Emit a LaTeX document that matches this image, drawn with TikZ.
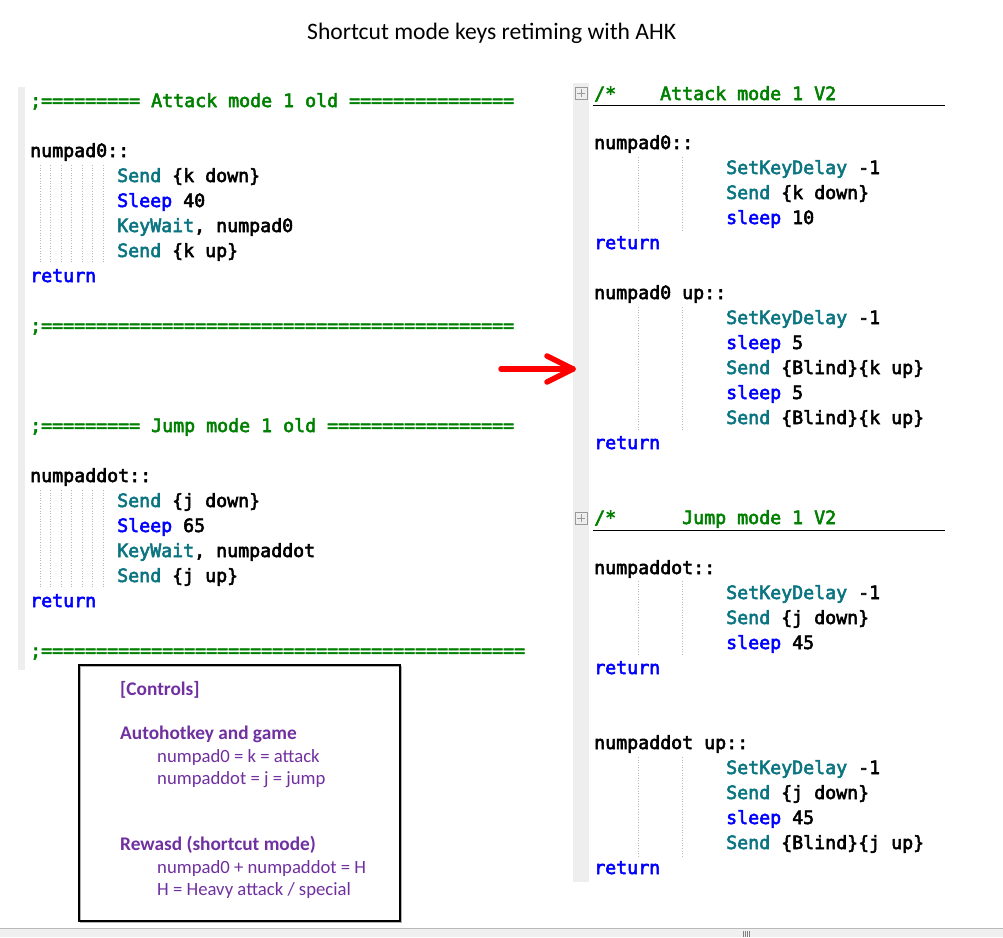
\documentclass[tikz,border=0pt]{standalone}
\usepackage{fontspec}
\setmainfont{Carlito}
\newfontfamily\codefont{DejaVu Sans Mono}[FakeBold=3]
\definecolor{cmtgreen}{HTML}{008000}
\definecolor{cmdteal}{HTML}{0A7480}
\definecolor{kwblue}{HTML}{0000FF}
\definecolor{notepurple}{HTML}{7030A0}
\definecolor{gutterbg}{HTML}{EEEEEE}
\definecolor{stripbg}{HTML}{F0F0F0}
\newcommand{\cmd}[1]{\textcolor{cmdteal}{#1}}
\newcommand{\kw}[1]{\textcolor{kwblue}{#1}}
\newcommand{\cm}[1]{\textcolor{cmtgreen}{#1}}
\newcommand{\sps}[1]{\hspace*{#1\dimexpr 11pt\relax}}
\begin{document}
\begin{tikzpicture}[x=1pt,y=-1pt,
  code/.style={anchor=base west, inner sep=0pt, font=\codefont\fontsize{18.27}{25}\selectfont},
  note/.style={anchor=base west, inner sep=0pt, text=notepurple, font=\fontsize{18.7}{22}\selectfont},
  notehead/.style={note, font=\bfseries\fontsize{19.3}{22}\selectfont},
  guide/.style={draw=gray!55, dotted, line width=0.6pt},
  gutter/.style={fill=gutterbg, draw=none},
  foldbox/.style={draw=gray!80, line width=0.6pt},
  headrule/.style={draw=black, line width=0.9pt},
  bigarrow/.style={draw=red, line width=5.5pt, line cap=round, line join=round}]
\useasboundingbox (0,0) rectangle (1003,937);
\fill[white] (0,0) rectangle (1003,937);

% title
\node[anchor=base west, inner sep=0pt, font=\fontsize{23.6}{28}\selectfont] (title) at (307,39) {Shortcut mode keys retiming with AHK};

% gutters
\path[gutter] (18,87) rectangle (25,670);
\path[gutter] (573,83) rectangle (589,882);

% ---------------- left panel ----------------
\node[code] (l1) at (30,107) {\cm{;========= Attack mode 1 old ===============}};
\node[code] (l2) at (30,157) {numpad0::};
\node[code] (l3) at (117,182) {\cmd{Send} \{k down\}};
\node[code] (l4) at (117,207) {\kw{Sleep} 40};
\node[code] (l5) at (117,232) {\cmd{KeyWait}, numpad0};
\node[code] (l6) at (117,257) {\cmd{Send} \{k up\}};
\node[code] (l7) at (30,282) {\kw{return}};
\node[code] (l8) at (30,332) {\cm{;===========================================}};
\node[code] (l9) at (30,432) {\cm{;========= Jump mode 1 old =================}};
\node[code] (l10) at (30,482) {numpaddot::};
\node[code] (l11) at (117,507) {\cmd{Send} \{j down\}};
\node[code] (l12) at (117,532) {\kw{Sleep} 65};
\node[code] (l13) at (117,557) {\cmd{KeyWait}, numpaddot};
\node[code] (l14) at (117,582) {\cmd{Send} \{j up\}};
\node[code] (l15) at (30,607) {\kw{return}};
\node[code] (l16) at (30,657) {\cm{;============================================}};

\foreach \gx in {40,50,61,71,82,92,103} {
  \path[guide] (\gx,165) -- (\gx,263);
  \path[guide] (\gx,490) -- (\gx,588);
}

% ---------------- right panel ----------------
\draw[foldbox] (575,87) rectangle (587,99) (577,93) -- (585,93) (581,89) -- (581,97);
\draw[foldbox] (575,512) rectangle (587,524) (577,518) -- (585,518) (581,514) -- (581,522);
\node[code] (r1) at (594,100) {\cm{/*\sps{4}Attack mode 1 V2}};
\path[headrule] (593,105) -- (945,105);
\node[code] (r2) at (594,149) {numpad0::};
\node[code] (r3) at (726,174) {\cmd{SetKeyDelay} -1};
\node[code] (r4) at (726,199) {\cmd{Send} \{k down\}};
\node[code] (r5) at (726,224) {\kw{sleep} 10};
\node[code] (r6) at (594,249) {\kw{return}};
\node[code] (r7) at (594,299) {numpad0 up::};
\node[code] (r8) at (726,324) {\cmd{SetKeyDelay} -1};
\node[code] (r9) at (726,349) {\kw{sleep} 5};
\node[code] (r10) at (726,374) {\cmd{Send} \{Blind\}\{k up\}};
\node[code] (r11) at (726,399) {\kw{sleep} 5};
\node[code] (r12) at (726,424) {\cmd{Send} \{Blind\}\{k up\}};
\node[code] (r13) at (594,449) {\kw{return}};
\node[code] (r14) at (594,524) {\cm{/*\sps{6}Jump mode 1 V2}};
\path[headrule] (593,530) -- (945,530);
\node[code] (r15) at (594,574) {numpaddot::};
\node[code] (r16) at (726,599) {\cmd{SetKeyDelay} -1};
\node[code] (r17) at (726,624) {\cmd{Send} \{j down\}};
\node[code] (r18) at (726,649) {\kw{sleep} 45};
\node[code] (r19) at (594,674) {\kw{return}};
\node[code] (r20) at (594,749) {numpaddot up::};
\node[code] (r21) at (726,774) {\cmd{SetKeyDelay} -1};
\node[code] (r22) at (726,799) {\cmd{Send} \{j down\}};
\node[code] (r23) at (726,824) {\kw{sleep} 45};
\node[code] (r24) at (726,849) {\cmd{Send} \{Blind\}\{j up\}};
\node[code] (r25) at (594,874) {\kw{return}};

\foreach \gx in {638,682} {
  \path[guide] (\gx,157) -- (\gx,230);
  \path[guide] (\gx,307) -- (\gx,430);
  \path[guide] (\gx,581) -- (\gx,656);
  \path[guide] (\gx,757) -- (\gx,856);
}

% red arrow
\coordinate (arrS) at (501,369);
\coordinate (arrT) at (573,369);
\coordinate (arrU) at (547,356);
\coordinate (arrD) at (547,382);
\path[bigarrow] (arrS) -- (arrT);
\path[bigarrow] (arrU) -- (arrT) -- (arrD);

% controls box
\draw[gray!60, line width=1pt] (80,666) rectangle (401,922);
\node[draw=black, line width=1.8pt, minimum width=321pt, minimum height=256pt, anchor=north west, inner sep=0pt] (ctrl) at (78,664) {};
\node[notehead] (c1) at (120,695) {[Controls]};
\node[notehead] (c2) at (120,739) {Autohotkey and game};
\node[note] (c3) at (157,762) {numpad0 = k = attack};
\node[note] (c4) at (157,784) {numpaddot = j = jump};
\node[notehead] (c5) at (120,850) {Rewasd (shortcut mode)};
\node[note] (c6) at (157,873) {numpad0 + numpaddot = H};
\node[note] (c7) at (157,895) {H = Heavy attack / special};

% bottom strip
\fill[stripbg] (0,928) rectangle (1003,937);
\draw[gray!55, line width=1pt] (0,928) -- (1003,928);
\foreach \gx in {743,745,747,749} { \draw[gray, line width=0.5pt] (\gx,931) -- (\gx,937); }
\end{tikzpicture}
\end{document}
